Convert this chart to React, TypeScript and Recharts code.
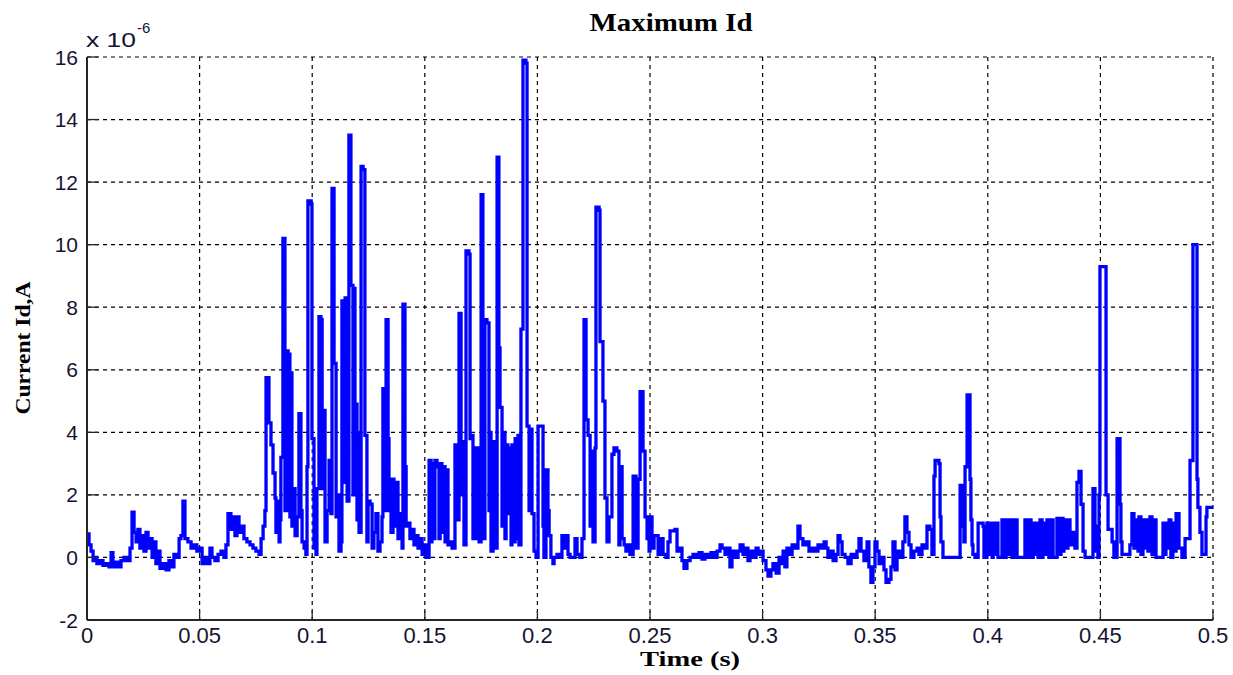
import React from "react";
import { LineChart, Line, XAxis, YAxis, CartesianGrid } from "recharts";

// ---- Data (time in s, current in units of 1e-6 A) ----
const timesA = [0, 0.0009, 0.0018, 0.0027, 0.0036, 0.0044, 0.0058, 0.0071, 0.0084, 0.0098, 0.0107, 0.0115, 0.0129, 0.0142, 0.0151, 0.0164, 0.0178, 0.0191, 0.02, 0.0209, 0.0218, 0.0226, 0.0235, 0.0244, 0.0253, 0.0262, 0.0271, 0.028, 0.0289, 0.0298, 0.0306, 0.0315, 0.0324, 0.0337, 0.0351, 0.0364, 0.0377, 0.0386, 0.04, 0.0409, 0.0417, 0.0426, 0.0435, 0.0448, 0.0462, 0.0475, 0.0488, 0.0502, 0.0511, 0.0524, 0.0537, 0.0546, 0.0555, 0.0568, 0.0582, 0.0595, 0.0608, 0.0617, 0.0626, 0.0639, 0.0648, 0.0657, 0.0666, 0.0675, 0.0684, 0.0697, 0.071, 0.0724, 0.0737, 0.075, 0.0764, 0.0773, 0.0782, 0.079];
const valuesA = [0.75, 0.4, 0.2, -0.1, 0.0, -0.2, -0.1, -0.25, -0.2, -0.3, 0.15, -0.3, -0.15, -0.3, -0.1, 0.0, -0.1, 0.3, 1.45, 0.8, 0.5, 0.9, 0.3, 0.7, 0.2, 0.8, 0.3, 0.6, 0.0, 0.5, -0.2, 0.2, -0.35, -0.2, -0.4, -0.1, -0.3, 0.1, 0.0, 0.6, 0.7, 1.8, 0.6, 0.5, 0.3, 0.4, 0.2, 0.3, -0.2, 0.0, -0.2, 0.3, 0.0, -0.1, 0.1, 0.2, 0.0, 0.4, 1.4, 0.9, 1.3, 0.7, 1.3, 0.8, 1.0, 0.6, 0.5, 0.4, 0.3, 0.2, 0.1, 0.6, 1.0, 1.5];

const timesB = [0.0795, 0.0808, 0.0817, 0.0826, 0.0835, 0.0839, 0.0848, 0.0853, 0.0857, 0.0861, 0.087, 0.0879, 0.0884, 0.0893, 0.0897, 0.0901, 0.0906, 0.091, 0.0915, 0.0924, 0.0933, 0.0941, 0.095, 0.0955, 0.0964, 0.0972, 0.0977, 0.0981, 0.0995, 0.0999, 0.1008, 0.1017, 0.1021, 0.103, 0.1039, 0.1044, 0.1052, 0.1057, 0.1066, 0.1075, 0.1083, 0.1088, 0.1097, 0.1106, 0.111, 0.1119, 0.1128, 0.1132, 0.1141, 0.1146, 0.1155, 0.1163, 0.1172, 0.1181, 0.1186, 0.119, 0.1199, 0.1203, 0.1208, 0.1217, 0.1226, 0.1234, 0.1243, 0.1248, 0.1257, 0.1266, 0.1274, 0.1283, 0.1292, 0.1301, 0.131, 0.1314, 0.1323, 0.1328, 0.1337, 0.1341, 0.1345, 0.135, 0.1359, 0.1363, 0.1372, 0.1381, 0.139, 0.1399, 0.1403, 0.1412, 0.1417, 0.1425, 0.1434, 0.1443, 0.1452, 0.1461, 0.147, 0.1479, 0.1488, 0.1496, 0.1505];
const valuesB = [5.75, 4.3, 3.6, 2.7, 1.9, 0.8, 1.8, 0.5, 1.2, 3.2, 10.2, 1.5, 6.6, 1.5, 6.5, 1.3, 5.9, 1.0, 2.2, 0.7, 1.3, 4.6, 1.5, 0.5, 0.3, 0.1, 2.9, 11.4, 11.3, 3.8, 0.3, 0.1, 2.2, 7.7, 7.6, 2.2, 4.7, 0.5, 1.5, 3.1, 1.4, 11.8, 6.2, 1.3, 2.0, 0.2, 0.5, 8.2, 2.4, 8.3, 1.8, 13.5, 8.7, 2.0, 8.6, 4.9, 1.2, 4.0, 0.8, 12.5, 12.4, 3.9, 0.5, 1.8, 1.7, 0.3, 0.8, 1.4, 0.2, 0.5, 1.3, 5.4, 1.5, 7.6, 3.8, 1.5, 2.5, 0.8, 2.5, 1.0, 2.4, 0.6, 1.4, 0.3, 8.1, 2.9, 1.0, 1.1, 0.6, 0.9, 0.4, 0.7, 0.3, 0.6, 0.1, 0.4, 0.0];

const timesC = [0.1519, 0.1528, 0.1532, 0.1541, 0.1545, 0.1554, 0.1563, 0.1568, 0.1576, 0.1581, 0.159, 0.1594, 0.1603, 0.1612, 0.1621, 0.1634, 0.1643, 0.1652, 0.1661, 0.1665, 0.1674, 0.1683, 0.1696, 0.1701, 0.171, 0.1714, 0.1718, 0.1727, 0.1732, 0.1741, 0.175, 0.1758, 0.1763, 0.1767, 0.1776, 0.1785, 0.179, 0.1794, 0.1803, 0.1812, 0.1821, 0.1829, 0.1834, 0.1843, 0.1847, 0.1856, 0.1861, 0.1869, 0.1874, 0.1883, 0.1887, 0.1896, 0.1901, 0.1909, 0.1914, 0.1918, 0.1927, 0.1936, 0.1949, 0.1954, 0.1963, 0.1967, 0.1976, 0.1985, 0.1994, 0.2003, 0.2016, 0.2025, 0.2029, 0.2038, 0.2047, 0.2052, 0.206, 0.2069, 0.2074, 0.2087, 0.21, 0.2109, 0.2118, 0.2127, 0.2136, 0.2145, 0.2167, 0.2176, 0.2189, 0.2198, 0.2207, 0.2216, 0.2225, 0.2234, 0.2238, 0.2247, 0.2256, 0.226, 0.2274, 0.2278, 0.2291, 0.23, 0.2309, 0.2318, 0.2331, 0.234, 0.2353, 0.2362, 0.2367, 0.2376, 0.2385, 0.2393, 0.2402, 0.2411, 0.2425, 0.2438, 0.2447, 0.2456, 0.2469, 0.2478, 0.2487, 0.2496];
const valuesC = [3.1, 0.5, 3.0, 0.6, 3.1, 2.9, 0.6, 3.0, 0.8, 2.9, 0.5, 2.8, 0.4, 0.5, 0.3, 3.6, 1.2, 7.8, 2.0, 3.7, 0.4, 9.8, 9.7, 3.8, 3.9, 0.6, 3.5, 0.6, 3.5, 0.5, 11.6, 5.8, 0.6, 7.6, 7.5, 1.5, 4.0, 0.2, 3.7, 0.3, 12.8, 6.7, 4.8, 1.0, 4.0, 0.6, 3.6, 1.4, 3.5, 0.4, 3.6, 0.5, 3.8, 0.6, 3.9, 0.4, 7.3, 15.9, 15.8, 4.2, 1.5, 4.1, 1.4, 0.2, 0.0, 4.2, 4.2, 1.0, 0.0, 2.8, 1.5, 0.7, 0.0, -0.2, 0.0, 0.1, 0.0, 0.7, 0.3, 0.7, 0.1, 0.0, 0.6, 0.1, 0.0, 0.6, 7.6, 4.4, 3.9, 1.0, 3.4, 0.5, 3.5, 11.2, 11.1, 6.9, 5.0, 1.9, 0.5, 1.3, 3.3, 3.5, 3.4, 0.4, 2.9, 0.6, 0.4, 0.2, 0.4, 0.1, 2.6, 0.3, 2.5, 5.3, 3.4, 1.3, 0.6, 0.2];

const timesD = [0.25, 0.2509, 0.2518, 0.2527, 0.2536, 0.2549, 0.2558, 0.2571, 0.258, 0.2589, 0.2611, 0.262, 0.2633, 0.2642, 0.2651, 0.2664, 0.2678, 0.2691, 0.2704, 0.2718, 0.2731, 0.2744, 0.2758, 0.2771, 0.2784, 0.2798, 0.2811, 0.282, 0.2833, 0.2842, 0.2855, 0.2864, 0.2877, 0.2891, 0.29, 0.2913, 0.2922, 0.2935, 0.2944, 0.2957, 0.2971, 0.298, 0.2988, 0.3002, 0.3015, 0.3024, 0.3037, 0.3046, 0.306, 0.3073, 0.3082, 0.3091, 0.3099, 0.3108, 0.3117, 0.3131, 0.3144, 0.3157, 0.3166, 0.3179, 0.3193, 0.3206, 0.3219, 0.3233, 0.3246, 0.3259, 0.3273, 0.3282, 0.329, 0.3299, 0.3313, 0.3326, 0.3335, 0.3344, 0.3353, 0.3366, 0.3379, 0.3393, 0.3406, 0.3419, 0.3428, 0.3437, 0.345, 0.3464, 0.3472, 0.3481, 0.349, 0.3499, 0.3508, 0.3517, 0.3526, 0.3539, 0.3548, 0.3561, 0.357, 0.3579, 0.3588, 0.3597, 0.361, 0.3623, 0.3632, 0.3641, 0.365, 0.3659, 0.3672, 0.3686, 0.3694, 0.3708, 0.3721, 0.373, 0.3743, 0.3752, 0.3761];
const valuesD = [1.3, 0.3, 0.7, 0.7, 0.1, 0.6, 0.1, 0.0, 0.5, 0.85, 0.9, 0.2, 0.3, -0.1, -0.35, -0.1, 0.0, 0.1, 0.0, 0.15, -0.05, 0.1, 0.0, 0.15, 0.0, 0.2, 0.4, 0.3, 0.1, 0.3, -0.3, 0.2, 0.0, 0.2, 0.4, 0.1, 0.3, -0.1, 0.2, 0.0, 0.3, 0.1, 0.2, -0.1, -0.4, -0.6, -0.4, -0.2, -0.5, 0.0, -0.2, 0.2, -0.3, 0.3, 0.1, 0.4, 0.3, 1.0, 0.6, 0.4, 0.5, 0.2, 0.3, 0.2, 0.4, 0.3, 0.5, 0.3, 0.0, 0.2, -0.1, 0.1, 0.7, 0.5, 0.1, 0.0, -0.2, 0.1, 0.0, 0.2, 0.6, 0.2, -0.1, 0.5, -0.3, -0.8, -0.3, 0.5, 0.2, -0.2, 0.0, -0.4, -0.8, -0.7, -0.3, 0.5, -0.4, 0.2, 0.0, 0.5, 1.3, 0.8, 0.4, 0.0, 0.2, 0.3, 0.1, 0.4, 0.3, 1.0, 0.9, 0.1, 2.6];

const timesE = [0.3766, 0.3783, 0.3788, 0.3792, 0.3801, 0.3877, 0.3885, 0.3894, 0.3899, 0.3908, 0.3921, 0.3925, 0.393, 0.3934, 0.3943, 0.3957, 0.3979, 0.3983, 0.3996, 0.4005, 0.401, 0.4019, 0.4023, 0.4032, 0.4036, 0.4045, 0.4063, 0.4072, 0.4081, 0.409, 0.4099, 0.4107, 0.4116, 0.413, 0.4165, 0.4179, 0.4183, 0.4192, 0.4201, 0.421, 0.4214, 0.4223, 0.4232, 0.4241, 0.4245, 0.4254, 0.4263, 0.4272, 0.4276, 0.429, 0.4307, 0.4316, 0.4325, 0.4334, 0.4338, 0.4347, 0.4356, 0.4365, 0.4374, 0.4387, 0.4396, 0.4405, 0.4414, 0.4423, 0.4432, 0.4467, 0.4476, 0.4481, 0.4489, 0.4494, 0.4498, 0.452, 0.4525, 0.4534, 0.4552, 0.456, 0.4574, 0.4587, 0.4591, 0.4596, 0.4631, 0.464, 0.4649, 0.4658, 0.4667, 0.4671, 0.468, 0.4689, 0.4698, 0.4702, 0.4711, 0.472, 0.4729, 0.4734, 0.4747, 0.4778, 0.4787, 0.4791, 0.48, 0.4805, 0.4813, 0.4822, 0.4831, 0.4836, 0.4849, 0.4862, 0.4876, 0.4898, 0.4911, 0.4929, 0.4933, 0.4942, 0.4951, 0.4969, 0.4973, 0.5];
const valuesE = [3.1, 3.0, 1.3, 0.5, 0.0, 2.3, 1.0, 0.5, 2.9, 5.2, 2.5, 1.2, 0.4, 0.1, 0.0, 1.1, 1.0, 0.0, 1.1, 0.1, 1.1, 0.0, 1.1, 0.1, 1.1, 0.0, 1.2, 0.0, 1.2, 0.1, 1.2, 0.0, 1.2, 0.0, 1.2, 0.0, 1.2, 0.0, 1.1, 0.1, 1.1, 0.0, 1.2, 0.0, 1.1, 0.1, 1.2, 0.0, 1.2, 0.0, 1.25, 0.1, 1.25, 0.2, 1.2, 0.3, 1.2, 0.4, 0.8, 0.3, 2.4, 2.75, 1.7, 0.2, 0.0, 2.2, 1.0, 0.2, 0.0, 2.0, 9.3, 9.3, 2.0, 0.9, 0.5, 0.0, 3.8, 1.7, 0.5, 0.1, 0.4, 1.4, 0.3, 1.2, 0.2, 1.3, 0.1, 1.2, 0.3, 1.2, 0.2, 1.3, 0.1, 1.2, 0.0, 1.1, 0.1, 1.1, 0.3, 1.2, 0.0, 1.1, 0.2, 1.4, 0.3, 0.0, 0.6, 3.1, 10.0, 2.5, 1.6, 0.8, 0.1, 1.3, 1.6, 1.6];

const xTicks = [0, 0.05, 0.1, 0.15, 0.2, 0.25, 0.3, 0.35, 0.4, 0.45, 0.5];
const xTickLabels = ["0", "0.05", "0.1", "0.15", "0.2", "0.25", "0.3", "0.35", "0.4", "0.45", "0.5"];
const yTicks = [-2, 0, 2, 4, 6, 8, 10, 12, 14, 16];
const yTickLabels = ["-2", "0", "2", "4", "6", "8", "10", "12", "14", "16"];

const times = [...timesA, ...timesB, ...timesC, ...timesD, ...timesE];
const values = [...valuesA, ...valuesB, ...valuesC, ...valuesD, ...valuesE];
const data = times.map((t, i) => ({ t, v: values[i] }));

const TICK_FONT = "'Liberation Sans', Arial, sans-serif";
const LABEL_FONT = "'Liberation Serif', 'Times New Roman', serif";
const FRAME = "#262626";
const TEXT = "#141432";

const BottomTick = (props: any) => {
  const { x, y, payload, index } = props;
  return (
    <g>
      <line x1={x} x2={x} y1={y} y2={y - 9} stroke={FRAME} strokeWidth={1.3} />
      <text x={x} y={y + 23} textAnchor="middle" fontFamily={TICK_FONT} fontSize={22} fill={TEXT}>
        {xTickLabels[xTicks.indexOf(payload.value)] ?? xTickLabels[index]}
      </text>
    </g>
  );
};

const TopTick = (props: any) => {
  const { x, y } = props;
  return <line x1={x} x2={x} y1={y} y2={y + 9} stroke={FRAME} strokeWidth={1.3} />;
};

const LeftTick = (props: any) => {
  const { x, y, payload, index } = props;
  return (
    <g>
      <line x1={x} x2={x + 11} y1={y} y2={y} stroke={FRAME} strokeWidth={1.3} />
      <text x={x - 9} y={y} dy="0.36em" textAnchor="end" fontFamily={TICK_FONT} fontSize={21} fill={TEXT}>
        {yTickLabels[yTicks.indexOf(payload.value)] ?? yTickLabels[index]}
      </text>
    </g>
  );
};

const RightTick = (props: any) => {
  const { x, y } = props;
  return <line x1={x} x2={x - 11} y1={y} y2={y} stroke={FRAME} strokeWidth={1.3} />;
};

export default function App() {
  return (
    <div style={{ position: "absolute", left: 0, top: 0, width: 1233, height: 675, background: "#fff" }}>
      <LineChart
        width={1233}
        height={675}
        data={data}
        margin={{ top: 57, right: 20, bottom: 25, left: 47 }}
      >
        <CartesianGrid stroke="#000" strokeDasharray="4 4" strokeWidth={1.2} />
        <XAxis
          dataKey="t"
          type="number"
          domain={[0, 0.5]}
          ticks={xTicks}
          allowDataOverflow
          height={30}
          tickSize={0}
          tickMargin={0}
          tickLine={false}
          axisLine={{ stroke: FRAME, strokeWidth: 2 }}
          tick={<BottomTick />}
          interval={0}
        />
        <XAxis
          xAxisId="top"
          orientation="top"
          dataKey="t"
          type="number"
          domain={[0, 0.5]}
          ticks={xTicks}
          height={0}
          tickSize={0}
          tickMargin={0}
          tickLine={false}
          axisLine={{ stroke: FRAME, strokeWidth: 2 }}
          tick={<TopTick />}
          interval={0}
        />
        <YAxis
          type="number"
          domain={[-2, 16]}
          ticks={yTicks}
          allowDataOverflow
          width={40}
          tickSize={0}
          tickMargin={0}
          tickLine={false}
          axisLine={{ stroke: FRAME, strokeWidth: 2 }}
          tick={<LeftTick />}
          interval={0}
        />
        <YAxis
          yAxisId="right"
          orientation="right"
          type="number"
          domain={[-2, 16]}
          ticks={yTicks}
          width={0}
          tickSize={0}
          tickMargin={0}
          tickLine={false}
          axisLine={{ stroke: FRAME, strokeWidth: 2 }}
          tick={<RightTick />}
          interval={0}
        />
        <Line
          type="stepAfter"
          dataKey="v"
          stroke="#0000ff"
          strokeWidth={3.3}
          dot={false}
          activeDot={false}
          isAnimationActive={false}
        />
      </LineChart>
      <svg
        width={1233}
        height={675}
        style={{ position: "absolute", left: 0, top: 0, pointerEvents: "none" }}
      >
        <text x={671} y={31} textAnchor="middle" fontFamily={LABEL_FONT} fontWeight="bold" fontSize={25}
          textLength={163} lengthAdjust="spacingAndGlyphs" fill="#000">
          Maximum Id
        </text>
        <text x={86} y={47} fontFamily={TICK_FONT} fontSize={21} fill={TEXT}
          textLength={50} lengthAdjust="spacingAndGlyphs">x 10</text>
        <text x={137} y={33} fontFamily={TICK_FONT} fontSize={15} fill={TEXT}>-6</text>
        <text x={690} y={666} textAnchor="middle" fontFamily={LABEL_FONT} fontWeight="bold" fontSize={22}
          textLength={100} lengthAdjust="spacingAndGlyphs" fill="#000">
          Time (s)
        </text>
        <text
          x={0}
          y={0}
          transform="translate(30,348) rotate(-90)"
          textAnchor="middle"
          fontFamily={LABEL_FONT}
          fontWeight="bold"
          fontSize={22}
          textLength={133}
          lengthAdjust="spacingAndGlyphs"
          fill="#000"
        >
          Current Id,A
        </text>
      </svg>
    </div>
  );
}
